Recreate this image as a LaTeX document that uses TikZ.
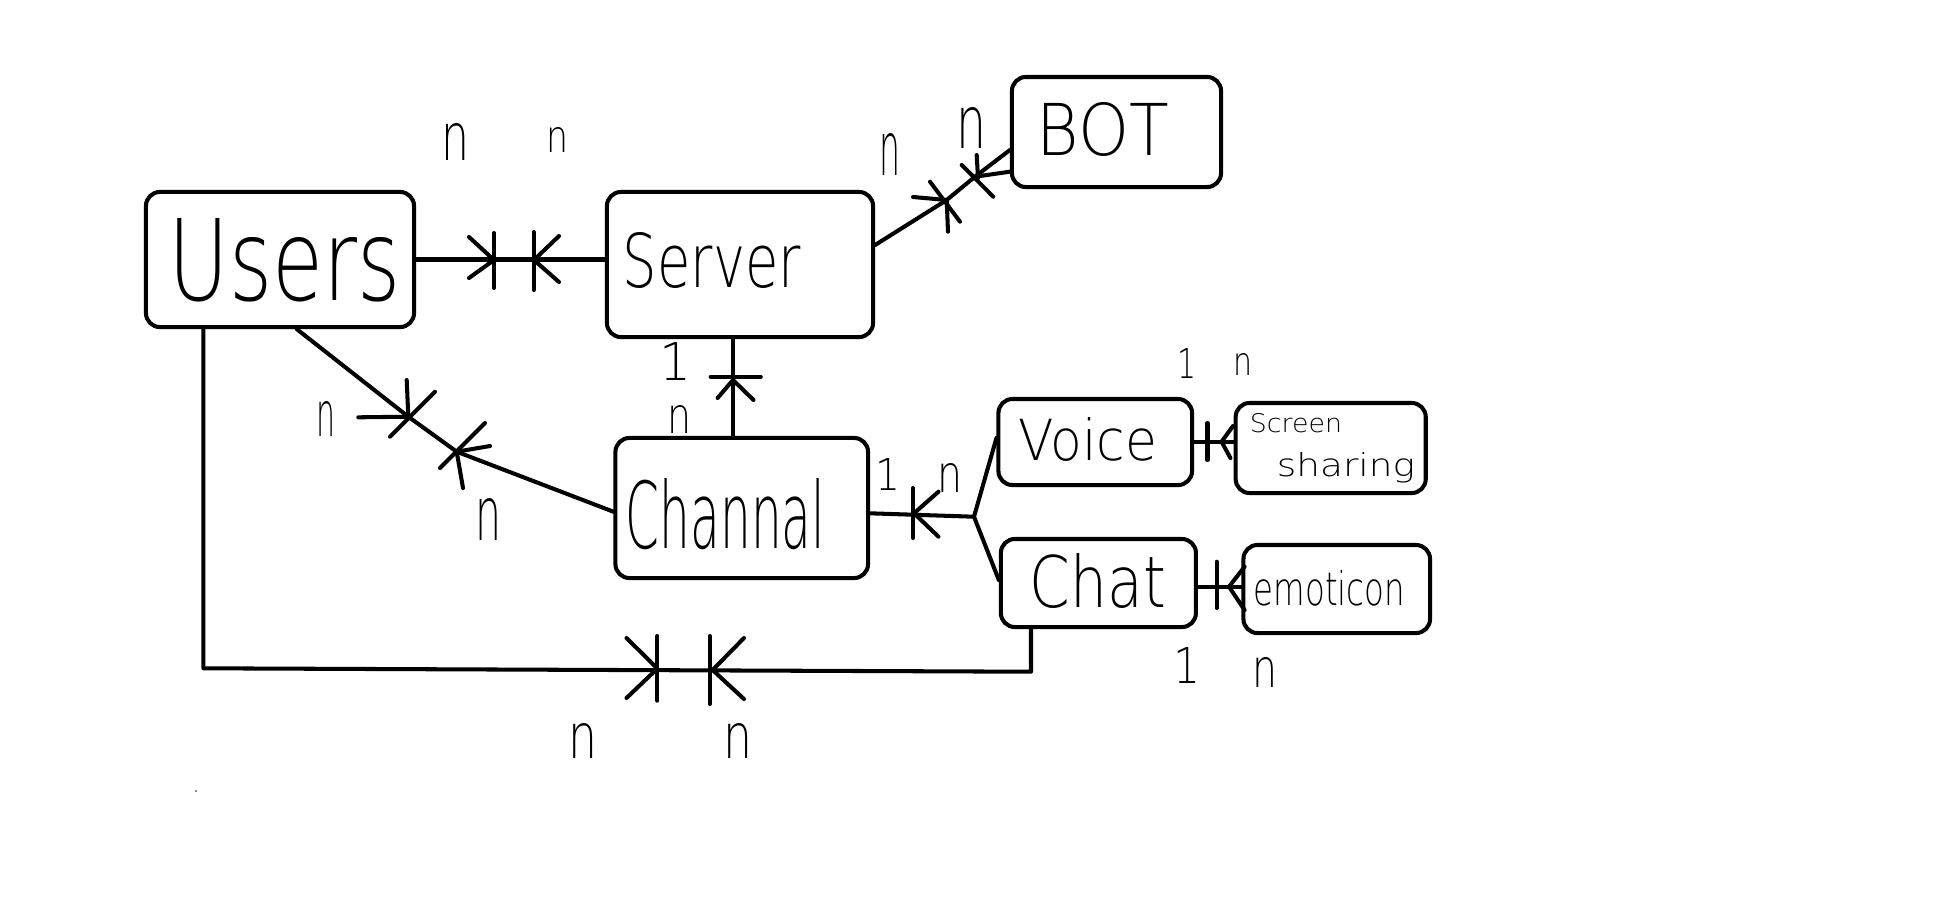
\documentclass[tikz,border=0pt]{standalone}
\usepackage{fontspec}
\usepackage{graphicx}
\setmainfont{DejaVu Sans ExtraLight}
\newcommand{\fitt}[3]{\resizebox{#1}{#2}{#3}}
\tikzset{
  box/.style={draw, line width=1.15pt, rounded corners=0.14cm, inner sep=0pt},
  conn/.style={line width=1.15pt, line cap=round, line join=round},
  txt/.style={inner sep=0pt, anchor=base},
  lab/.style={inner sep=0pt, anchor=base},
}
\begin{document}
\begin{tikzpicture}[x=0.01cm, y=-0.01cm]
\fill[white] (0,0) rectangle (1947,896);
\useasboundingbox (0,0) rectangle (1947,896);

% entity boxes
\node[box, minimum width=2.68cm, minimum height=1.35cm] (users) at (280,259.5) {};
\node[box, minimum width=2.66cm, minimum height=1.45cm] (server) at (740,264.5) {};
\node[box, minimum width=2.09cm, minimum height=1.10cm] (bot) at (1116.5,132) {};
\node[box, minimum width=2.525cm, minimum height=1.40cm] (channel) at (741.75,508) {};
\node[box, minimum width=1.935cm, minimum height=0.86cm] (voice) at (1095.25,442) {};
\node[box, minimum width=1.90cm, minimum height=0.90cm] (ss) at (1330.7,448) {};
\node[box, minimum width=1.95cm, minimum height=0.88cm] (chat) at (1098.4,583) {};
\node[box, minimum width=1.865cm, minimum height=0.88cm] (emo) at (1336.75,589) {};

% entity texts
\node[txt] (usersT) at (285,300) {\fitt{2.32cm}{0.82cm}{Users}};
\node[txt] (serverT) at (712,287) {\fitt{1.78cm}{0.55cm}{Server}};
\node[txt] (botT) at (1103,155) {\fitt{1.32cm}{0.53cm}{BOT}};
\node[txt] (channelT) at (725.5,548) {\fitt{1.99cm}{0.70cm}{Channal}};
\node[txt] (voiceT) at (1088,460) {\fitt{1.38cm}{0.43cm}{Voice}};
\node[txt] (chatT) at (1098,607) {\fitt{1.36cm}{0.54cm}{Chat}};
\node[txt] (emoT) at (1329.5,605) {\fitt{1.51cm}{0.35cm}{emoticon}};
\node[txt] (ssT1) at (1296,432) {\fitt{0.92cm}{0.19cm}{Screen}};
\node[txt] (ssT2) at (1346,476) {\fitt{1.38cm}{0.24cm}{sharing}};

% Users -- Server
\draw[conn] (users.east) -- (users.east -| server.west);
\draw[conn] (494,233) -- (494,288);
\draw[conn] (469,237) -- (494,260) -- (469,278);
\draw[conn] (533.6,232) -- (533.6,290);
\draw[conn] (559,236) -- (534,260) -- (559,282);

% Server -- BOT
\draw[conn] (server.east) ++(0,-19.5) -- (946.7,200) -- (975,176.7) -- (bot.west |- 0,150);
\draw[conn] (930,181.7) -- (960,221.7);
\draw[conn] (913,197) -- (946.7,200) -- (948,231.7);
\draw[conn] (961.7,165) -- (993.3,196.7);
\draw[conn] (976.7,155) -- (978,178);
\draw[conn] (975,176.7) -- (bot.west |- 0,171.7);

% Users -- Channel
\draw[conn] (users.south) ++(16.7,0) -- (408.3,416.7) -- (456.7,451.7) -- ([yshift=-0.037cm]channel.west);
\draw[conn] (390,436.7) -- (435,391.7);
\draw[conn] (406.7,380) -- (408.3,416.7) -- (358.3,417.3);
\draw[conn] (440,468) -- (485,423);
\draw[conn] (490,446) -- (456.7,451.7) -- (463,488);

% Server -- Channel
\draw[conn] (channel.north -| 733,0) -- (server.south -| 733,0);
\draw[conn] (710.6,376.7) -- (760.8,376.7);
\draw[conn] (717.6,398) -- (733,380) -- (753.5,400);

% Channel -- Voice / Chat
\draw[conn] ([yshift=-0.053cm]channel.east) -- (974,516.7) coordinate (br);
\draw[conn] (br) -- ([yshift=0.04cm]voice.west);
\draw[conn] (br) -- ([yshift=0.03cm]chat.west);
\draw[conn] (912.8,488) -- (912.8,538);
\draw[conn] (938.5,491.7) -- (914,513.3) -- (938.5,536.7);

% Voice -- Screen sharing
\draw[conn] (voice.east) -- (voice.east -| ss.west);
\draw[conn] (1207.5,423) -- (1207.5,460);
\draw[conn] (1233,426) -- (1221.6,441.7) -- (1230.4,458);

% Chat -- emoticon
\draw[conn] ([yshift=-0.037cm]chat.east) -- ([yshift=-0.037cm]chat.east -| emo.west);
\draw[conn] (1216.7,561.7) -- (1216.7,608);
\draw[conn] (1244.6,566.7) -- (1229,586.7) -- (1244.6,610);

% Users -- Chat (bottom route)
\draw[conn] (users.south -| 203.4,0) -- (203.4,668.3) -- (1031,671.7) -- (chat.south -| 1031,0);
\draw[conn] (657.4,636) -- (657.4,700.7);
\draw[conn] (626.5,638) -- (657.4,668.5) -- (626.5,698);
\draw[conn] (709.7,636) -- (709.7,704);
\draw[conn] (744,638) -- (712.6,670) -- (744,699);

% cardinality labels
\node[lab] (l1) at (456,160) {\fitt{0.28cm}{0.37cm}{n}};
\node[lab] (l2) at (558,152) {\fitt{0.22cm}{0.25cm}{n}};
\node[lab] (l3) at (890,175) {\fitt{0.21cm}{0.42cm}{n}};
\node[lab] (l4) at (972,148) {\fitt{0.30cm}{0.41cm}{n}};
\node[lab] (l5) at (676,380) {\fitt{0.32cm}{0.38cm}{1}};
\node[lab] (l6) at (680,433) {\fitt{0.24cm}{0.28cm}{n}};
\node[lab] (l7) at (326,436.7) {\fitt{0.19cm}{0.35cm}{n}};
\node[lab] (l8) at (489,540) {\fitt{0.26cm}{0.42cm}{n}};
\node[lab] (l9) at (888,490) {\fitt{0.25cm}{0.32cm}{1}};
\node[lab] (l10) at (950,492) {\fitt{0.25cm}{0.29cm}{n}};
\node[lab] (l11) at (1187,378) {\fitt{0.19cm}{0.30cm}{1}};
\node[lab] (l12) at (1243,375) {\fitt{0.19cm}{0.22cm}{n}};
\node[lab] (l13) at (1187,683) {\fitt{0.27cm}{0.36cm}{1}};
\node[lab] (l14) at (1265,687) {\fitt{0.25cm}{0.30cm}{n}};
\node[lab] (l15) at (583,758) {\fitt{0.29cm}{0.35cm}{n}};
\node[lab] (l16) at (738,758) {\fitt{0.29cm}{0.35cm}{n}};

% stray dot
\fill[black!60] (196,791) circle (1.2);
\end{tikzpicture}
\end{document}
